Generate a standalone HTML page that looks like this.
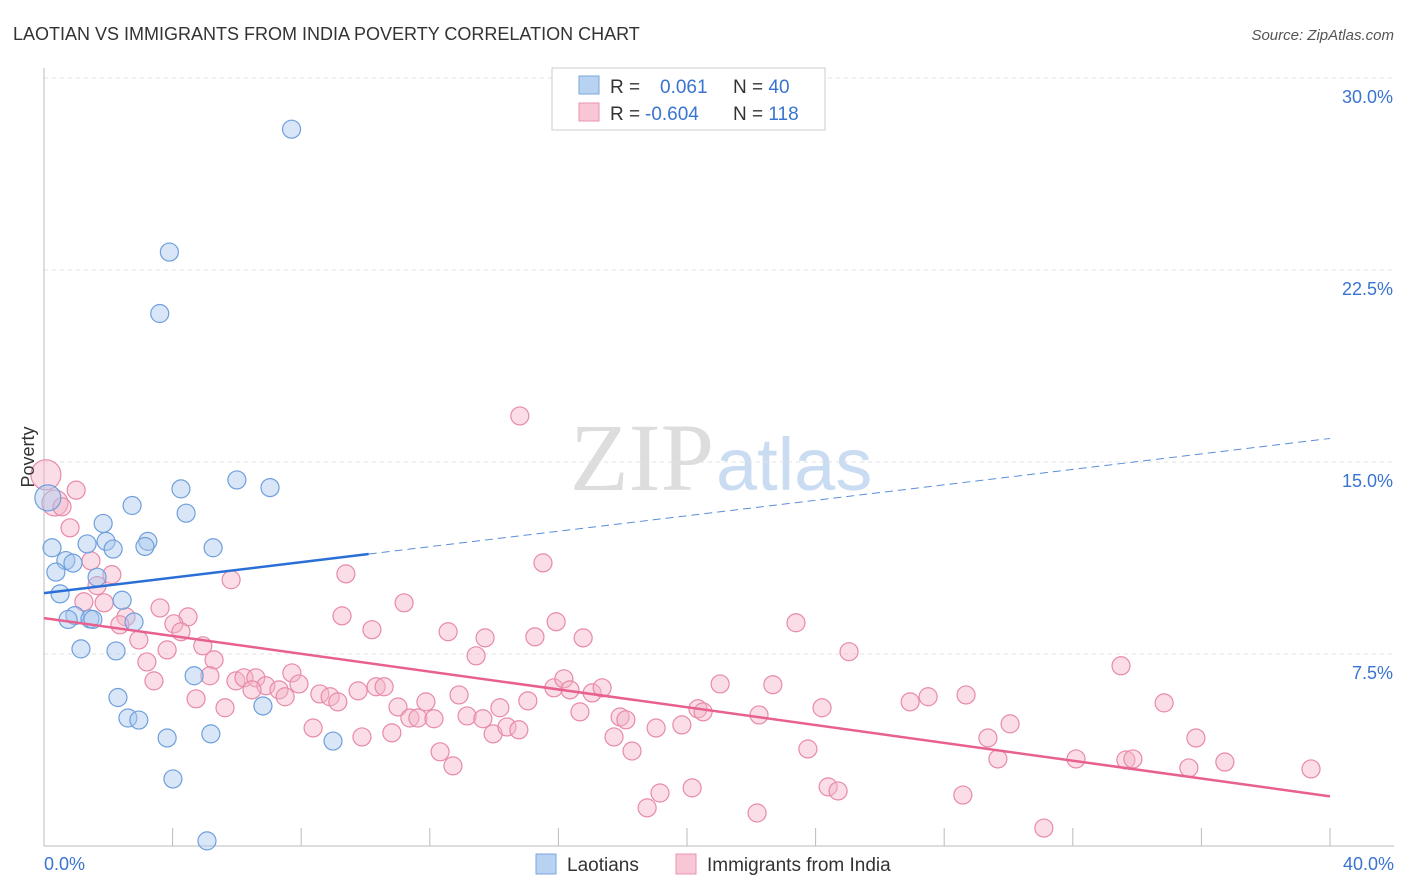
<!DOCTYPE html>
<html><head><meta charset="utf-8">
<style>
body{margin:0;background:#fff;font-family:"Liberation Sans",sans-serif;}
svg{display:block}
</style></head>
<body>
<svg id="chart" width="1406" height="892">
<text x="13" y="40" font-size="18" fill="#333">LAOTIAN VS IMMIGRANTS FROM INDIA POVERTY CORRELATION CHART</text>
<text x="1394" y="40" font-size="15" fill="#555" text-anchor="end" font-style="italic">Source: ZipAtlas.com</text>
<text x="714" y="490" font-size="96" fill="#ddd" text-anchor="end" font-family="Liberation Serif,serif">ZIP</text>
<text x="716" y="490" font-size="74" fill="#c9dcf2">atlas</text>
<g id="grid"></g>
<g id="axes"></g>
<g id="pts"></g>
<g id="lines"></g>
<text x="34" y="457" font-size="18" fill="#333" text-anchor="middle" transform="rotate(-90 34 457)">Poverty</text>
<g>
<rect x="552" y="68" width="273" height="62" fill="#fff" stroke="#ccc"/>
<rect x="579" y="76" width="20" height="18" fill="#b8d2f2" stroke="#7aa6e0"/>
<rect x="579" y="103" width="20" height="18" fill="#f8c6d5" stroke="#e895b0"/>
<text x="610" y="93" font-size="19" fill="#333">R = <tspan fill="#3a74d0" x="660">0.061</tspan><tspan x="733" fill="#333">N = </tspan><tspan fill="#3a74d0">40</tspan></text>
<text x="610" y="120" font-size="19" fill="#333">R = <tspan fill="#3a74d0" x="645">-0.604</tspan><tspan x="733" fill="#333">N = </tspan><tspan fill="#3a74d0">118</tspan></text>
</g>
<g>
<rect x="536" y="854" width="20" height="20" fill="#b8d2f2" stroke="#7aa6e0"/>
<text x="567" y="871" font-size="19" fill="#333">Laotians</text>
<rect x="676" y="854" width="20" height="20" fill="#f8c6d5" stroke="#e895b0"/>
<text x="707" y="871" font-size="19" fill="#333">Immigrants from India</text>
</g>
</svg>
<script>
const yTicks=[7.5,15,22.5,30];
const yTickLabels=["7.5%","15.0%","22.5%","30.0%"];
const xTicks=[0,4,8,12,16,20,24,28,32,36,40];
const laoX=[7.7,3.9,3.6,6.0,4.26,7.03,2.74,4.42,1.84,0.12,0.25,1.93,1.34,2.15,3.23,3.14,5.26,0.68,0.9,0.37,1.65,0.5,2.43,0.96,0.75,1.43,1.52,2.8,1.15,2.24,4.67,2.3,6.81,2.61,2.95,3.83,5.19,8.99,4.01,5.07];
const laoY=[28.0,23.2,20.8,14.3,13.95,14.0,13.3,13.0,12.6,13.6,11.65,11.9,11.8,11.6,11.9,11.7,11.65,11.15,11.05,10.7,10.5,9.85,9.6,9.0,8.85,8.87,8.85,8.75,7.7,7.62,6.65,5.8,5.47,5.0,4.92,4.22,4.38,4.1,2.62,0.2];
const indX=[0.06,0.34,0.56,1.0,0.81,1.46,2.11,1.65,1.24,1.87,2.55,2.36,3.61,4.48,4.04,4.26,2.95,4.94,5.29,3.2,3.42,3.83,5.16,4.73,5.63,5.82,9.39,11.2,9.27,10.2,14.8,15.52,12.57,13.72,13.44,15.27,15.93,16.77,23.39,25.04,33.5,7.71,5.97,6.22,6.59,6.9,6.47,7.31,7.93,7.5,8.58,8.9,9.14,9.77,10.33,10.58,8.37,9.89,11.01,11.88,10.82,11.38,11.63,12.13,12.32,12.72,12.91,13.16,13.65,13.97,14.18,14.4,14.77,15.05,15.86,16.17,16.36,17.05,17.36,16.67,17.73,17.92,18.1,18.29,19.04,19.84,20.34,20.5,21.03,22.24,22.67,23.76,24.2,19.16,20.16,18.76,22.18,24.39,24.7,26.94,27.5,28.68,29.36,29.67,30.05,28.58,31.1,32.1,33.65,33.87,34.84,35.83,35.61,36.73,39.41];
const indY=[14.5,13.4,13.25,13.9,12.43,11.14,10.6,10.17,9.54,9.5,8.95,8.64,9.3,8.95,8.68,8.37,8.05,7.82,7.27,7.19,6.45,7.66,6.65,5.75,5.4,10.4,10.63,9.5,8.99,8.45,16.8,11.06,8.37,8.13,7.43,8.17,8.76,8.13,8.72,7.59,7.04,6.76,6.45,6.57,6.57,6.26,6.1,6.1,6.33,5.83,5.94,5.83,5.63,6.06,6.22,6.22,4.61,4.26,5.43,5.63,4.42,5.0,5.0,4.97,3.68,3.13,5.9,5.08,4.97,4.38,5.4,4.65,4.54,5.67,6.18,6.53,6.1,5.98,6.18,5.24,4.26,5.04,4.93,3.71,4.61,4.73,5.36,5.24,6.33,5.12,6.3,3.79,5.4,2.07,2.27,1.49,1.29,2.31,2.15,5.63,5.83,5.9,4.22,3.4,4.77,1.99,0.7,3.4,3.36,3.4,5.59,4.22,3.05,3.28,3.01];
const laoTrend=[9.88,0.151]; // intercept, slope
const laoSolidEnd=10.1;
const indTrend=[8.9,-0.174];

const X=v=>44+v*32.15, Y=v=>846-v*25.6;
const NS="http://www.w3.org/2000/svg";
function mk(parent,tag,attrs){const e=document.createElementNS(NS,tag);for(const k in attrs)e.setAttribute(k,attrs[k]);document.getElementById(parent).appendChild(e);return e;}
yTicks.forEach((t,i)=>{
  const g=mk('grid','line',{x1:44,x2:1394,y1:Y(t),y2:Y(t),stroke:'#e2e2e2','stroke-dasharray':'4,4'});
  
  
  const l=mk('grid','text',{x:1393,y:Y(t)+25,'font-size':18,fill:'#3a74d0','text-anchor':'end'});
  l.textContent=yTickLabels[i];
  
  
});
const ax=mk('axes','line',{x1:44,x2:44,y1:68,y2:846,stroke:'#bbb'});


const xa=mk('axes','line',{x1:44,x2:1394,y1:846,y2:846,stroke:'#bbb'});


xTicks.forEach(t=>{
  const k=mk('axes','line',{x1:X(t),x2:X(t),y1:828,y2:846,stroke:'#bbb'});
  
  
});
[[0,'0.0%','start',44],[40,'40.0%','end',1394]].forEach(d=>{
  const l=mk('axes','text',{x:d[3],y:870,'font-size':18,fill:'#3a74d0','text-anchor':d[2]});
  l.textContent=d[1];
  
  
});
function dots(xs,ys,fill,stroke,name){
  xs.forEach((x,i)=>{
    const big=x<0.4&&ys[i]>13;
    const c=mk('pts','circle',{cx:X(x),cy:Y(ys[i]),r:big?(ys[i]>14?15:13):9,fill:fill,'fill-opacity':0.45,stroke:stroke,'stroke-width':1.2});
    
    
  });
}
dots(indX,indY,'#f5b3c8','#e88aa8','india-point');
dots(laoX,laoY,'#a9c8ee','#6f9fdc','laotian-point');
let l1=mk('lines','line',{x1:X(0),y1:Y(laoTrend[0]),x2:X(laoSolidEnd),y2:Y(laoTrend[0]+laoTrend[1]*laoSolidEnd),stroke:'#2a6fd6','stroke-width':2.5});


let l2=mk('lines','line',{x1:X(laoSolidEnd),y1:Y(laoTrend[0]+laoTrend[1]*laoSolidEnd),x2:X(40),y2:Y(laoTrend[0]+laoTrend[1]*40),stroke:'#5a8ed8','stroke-width':1,'stroke-dasharray':'8,5'});


let l3=mk('lines','line',{x1:X(0),y1:Y(indTrend[0]),x2:X(40),y2:Y(indTrend[0]+indTrend[1]*40),stroke:'#e8608e','stroke-width':2.5});


</script>
</body></html>
